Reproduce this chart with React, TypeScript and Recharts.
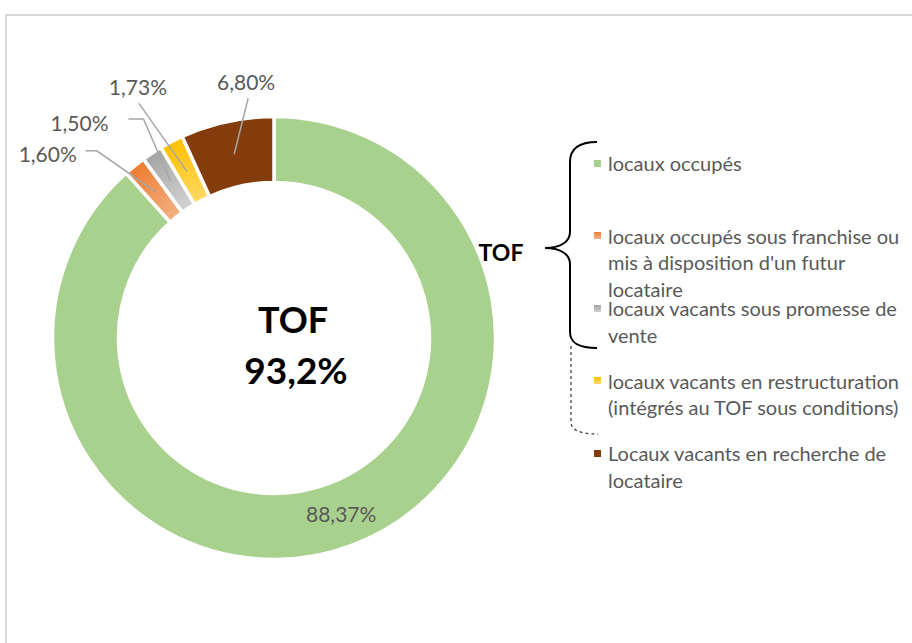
import React from 'react';
import {PieChart, Pie, Cell, Legend, Customized} from 'recharts';

const categories = [
  'locaux occupés',
  'locaux occupés sous franchise ou mis à disposition d\'un futur locataire',
  'locaux vacants sous promesse de vente',
  'locaux vacants en restructuration (intégrés au TOF sous conditions)',
  'Locaux vacants en recherche de locataire',
];
const shares = [88.37, 1.6, 1.5, 1.73, 6.8];
const centerTitle = 'TOF';
const centerValue = '93,2%';
const braceTitle = 'TOF';

const fills = ['#A9D18E', 'url(#gOrange)', 'url(#gGray)', 'url(#gYellow)', '#843C0C'];
const swatches = [
  '#A9D18E',
  'linear-gradient(#ED7D31, #F4B183)',
  'linear-gradient(#A5A5A5, #D0D0D0)',
  'linear-gradient(#FFC000, #FFD966)',
  '#843C0C',
];

// label placement relative to the slice anchor (text offset + leader line points)
const labelLayout = [
  {text: [0, 0], line: []},
  {text: [-108, -38], line: [[-59, -41], [-70, -41]]},
  {text: [-91, -59], line: [[-27, -62], [-42, -62]]},
  {text: [-49, -85], line: [[-48, -68]]},
  {text: [12, -73], line: [[14, -56]]},
];

const data = categories.map((name, i) => ({name, value: shares[i]}));

const CX = 274;
const CY = 338;
const RAD = Math.PI / 180;
const FONT = 'Lato, sans-serif';

const renderLabel = (props: any) => {
  const {cx, cy, midAngle, index, value} = props;
  const r = 188;
  const ax = cx + r * Math.cos(-midAngle * RAD);
  const ay = cy + r * Math.sin(-midAngle * RAD);
  const lay = labelLayout[index];
  const pts = [[ax, ay], ...lay.line.map(([dx, dy]) => [ax + dx, ay + dy])];
  return (
    <g key={'lbl' + index}>
      {lay.line.length > 0 && (
        <polyline
          points={pts.map((p) => p.join(',')).join(' ')}
          fill='none'
          stroke='#A6A6A6'
          strokeWidth={1.5}
        />
      )}
      <text
        x={ax + lay.text[0]}
        y={ay + lay.text[1]}
        textAnchor='middle'
        dominantBaseline='central'
        fill='#595959'
        fontSize={21}
        fontFamily={FONT}
      >
        {value.toFixed(2).replace('.', ',') + '%'}
      </text>
    </g>
  );
};

const Annotations = () => (
  <g>
    <text x={CX + 19} y={CY - 19} textAnchor='middle' dominantBaseline='central' fontSize={36} fontWeight={700} fontFamily={FONT} fill='#000'>
      {centerTitle}
    </text>
    <text x={CX + 22} y={CY + 31} textAnchor='middle' dominantBaseline='central' fontSize={37} fontWeight={700} fontFamily={FONT} fill='#000'>
      {centerValue}
    </text>
    <text x={501} y={252} textAnchor='middle' dominantBaseline='central' fontSize={23} fontWeight={700} fontFamily={FONT} fill='#000'>
      {braceTitle}
    </text>
    <path
      d='M597,142 C580,142 570,148 570,162 L570,232 C570,242 560,248 545,248 C560,248 570,254 570,264 L570,332 C570,344 580,348 597,348'
      fill='none'
      stroke='#000'
      strokeWidth={2}
    />
    <path
      d='M571,346 L571,422 C571,430 580,434 598,434'
      fill='none'
      stroke='#404040'
      strokeWidth={1.3}
      strokeDasharray='3 3'
    />
  </g>
);

const renderLegend = () => (
  <div style={{fontFamily: FONT, fontSize: 20, color: '#595959'}}>
    {categories.map((name, i) => (
      <div key={name} style={{position: 'relative', height: 72.5, paddingLeft: 18, width: 300}}>
        <span
          style={{
            position: 'absolute',
            left: 4,
            top: 9.5,
            width: 7,
            height: 7,
            background: swatches[i],
          }}
        />
        <div style={{lineHeight: '26.5px'}}>{name}</div>
      </div>
    ))}
  </div>
);

export default function App() {
  return (
    <div style={{position: 'absolute', left: 0, top: 0, width: 912, height: 643, background: '#fff', overflow: 'hidden'}}>
      <div style={{position: 'absolute', left: 5, top: 14, width: 930, height: 660, border: '2px solid #D9D9D9'}} />
      <div style={{position: 'absolute', left: 0, top: 0}}>
        <PieChart width={912} height={643} margin={{top: 0, right: 0, bottom: 0, left: 0}}>
          <defs>
            <radialGradient id='gOrange' gradientUnits='userSpaceOnUse' cx={CX} cy={CY} r={221}>
              <stop offset='0.7' stopColor='#F4B183' />
              <stop offset='1' stopColor='#ED7D31' />
            </radialGradient>
            <radialGradient id='gGray' gradientUnits='userSpaceOnUse' cx={CX} cy={CY} r={221}>
              <stop offset='0.7' stopColor='#D3D3D3' />
              <stop offset='1' stopColor='#A5A5A5' />
            </radialGradient>
            <radialGradient id='gYellow' gradientUnits='userSpaceOnUse' cx={CX} cy={CY} r={221}>
              <stop offset='0.7' stopColor='#FFD966' />
              <stop offset='1' stopColor='#FFC000' />
            </radialGradient>
          </defs>
          <Pie
            data={data}
            dataKey='value'
            nameKey='name'
            cx={CX}
            cy={CY}
            innerRadius={155.5}
            outerRadius={221.5}
            startAngle={90}
            endAngle={-270}
            stroke='#fff'
            strokeWidth={3.5}
            label={renderLabel}
            labelLine={false}
            isAnimationActive={false}
          >
            {data.map((d, i) => (
              <Cell key={d.name} fill={fills[i]} />
            ))}
          </Pie>
          <Legend
            layout='vertical'
            verticalAlign='top'
            align='right'
            content={renderLegend}
            wrapperStyle={{left: 590, top: 150, width: 320}}
          />
          <Customized component={Annotations} />
        </PieChart>
      </div>
    </div>
  );
}
